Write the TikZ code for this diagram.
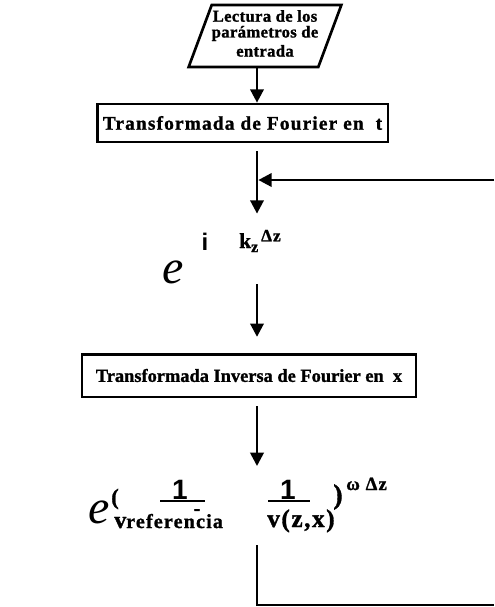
\documentclass[tikz,border=0pt]{standalone}
\usepackage{fontspec}
\setmainfont{Liberation Serif}[BoldFeatures={FakeBold=1.2}]
\newfontfamily\boxfont{Liberation Serif}[LetterSpace=6, BoldFeatures={FakeBold=1.2}]
\newfontfamily\paralfont{Liberation Serif}[LetterSpace=2, BoldFeatures={FakeBold=1.2}]
\newfontfamily\ifont{Liberation Sans}
\usetikzlibrary{arrows.meta,shapes.geometric}
\begin{document}
\begin{tikzpicture}[x=0.75pt, y=-0.75pt,
    caja/.style={draw, line width=2pt, inner sep=0pt,
                 font=\boxfont\bfseries\fontsize{14.5}{14.5}\selectfont},
    entrada/.style={trapezium, trapezium left angle=66, trapezium right angle=114,
                 trapezium stretches body, draw, line width=2pt, inner sep=0pt,
                 minimum width=112.5pt, minimum height=46.5pt, align=center,
                 font=\paralfont\bfseries\fontsize{12.5}{12.5}\selectfont},
    flecha/.style={line width=2pt, -{Triangle[width=10pt, length=10pt]}},
    linea/.style={line width=2pt},
    barra/.style={line width=1.5pt},
    grande/.style={inner sep=0pt, font=\itshape\fontsize{36}{36}\selectfont},
    expo/.style={inner sep=0pt, font=\boxfont\bfseries\fontsize{15}{15}\selectfont},
    num/.style={inner sep=0pt, font=\ifont\bfseries\fontsize{21}{21}\selectfont},
]
\useasboundingbox (0,0) rectangle (494,607);
\coordinate (eje) at (257,0);

% Input and first transform
\node[entrada] (lect) at (265,36) {\raisebox{4pt}{\shortstack{Lectura de los\\par\'ametros de\\entrada}}};
\node[caja, minimum width=218pt, minimum height=28.5pt] (tf1) at (242.5,123) {Transformada de Fourier en\ \ t};

% Propagator e^{i kz dz}
\node[grande] (e1) at (173,272) {e};
\node[inner sep=0pt, anchor=base, font=\ifont\bfseries\fontsize{18}{18}\selectfont] (i1) at (205,250) {i};
\node[inner sep=0pt, anchor=base west, font=\bfseries\fontsize{16}{16}\selectfont] (kz) at (239,248)
     {k\raisebox{-3pt}{\fontsize{12}{12}\selectfont z}\raisebox{5pt}{\boxfont\fontsize{13}{13}\selectfont\,Δz}};

% Inverse transform
\node[caja, minimum width=250.5pt, minimum height=32pt,
      font=\bfseries\fontsize{13.8}{13.8}\selectfont] (tf2) at (249,375.5) {Transformada Inversa de Fourier en\ \ x};

% Phase correction
\node[grande] (e2) at (99,512) {e};
\node[expo, font=\boxfont\bfseries\fontsize{17}{17}\selectfont] (pa) at (115,499) {(};
\node[num] (n1) at (180,490) {1};
\draw[barra] (160,501) -- (205,501);
\node[expo, anchor=base west] (vref) at (114,528)
     {{\fontsize{18}{18}\selectfont v}{\fontsize{15}{15}\selectfont referencia}};
\node[expo] (menos) at (197,512) {-};
\node[num] (n2) at (288,490) {1};
\draw[barra] (268,501) -- (310,501);
\node[expo, anchor=base west, font=\boxfont\bfseries\fontsize{19}{19}\selectfont] (vzx) at (267,527) {v(z,x)};
\node[expo, font=\boxfont\bfseries\fontsize{21}{21}\selectfont] (pc) at (338,497) {)};
\node[expo, anchor=base west, font=\boxfont\bfseries\fontsize{14}{14}\selectfont] (wdz) at (346,490) {ω\ Δz};

% Connectors
\coordinate (der1) at (494,180);
\coordinate (f2) at (257,466);
\coordinate (f3) at (257,545);
\coordinate (der2) at (494,605);
\draw[flecha] (lect.south -| eje) -- (tf1.north -| eje);
\draw[flecha, shorten <=6pt, shorten >=12pt] (tf1.south -| eje) -- (kz.north -| eje);
\draw[flecha, shorten >=1pt] (der1) -- (der1 -| eje);
\draw[flecha, shorten <=24pt, shorten >=12pt] (kz.south -| eje) -- (tf2.north -| eje);
\draw[flecha, shorten <=6pt] (tf2.south -| eje) -- (f2);
\draw[linea] (f3) |- (der2);
\end{tikzpicture}
\end{document}
